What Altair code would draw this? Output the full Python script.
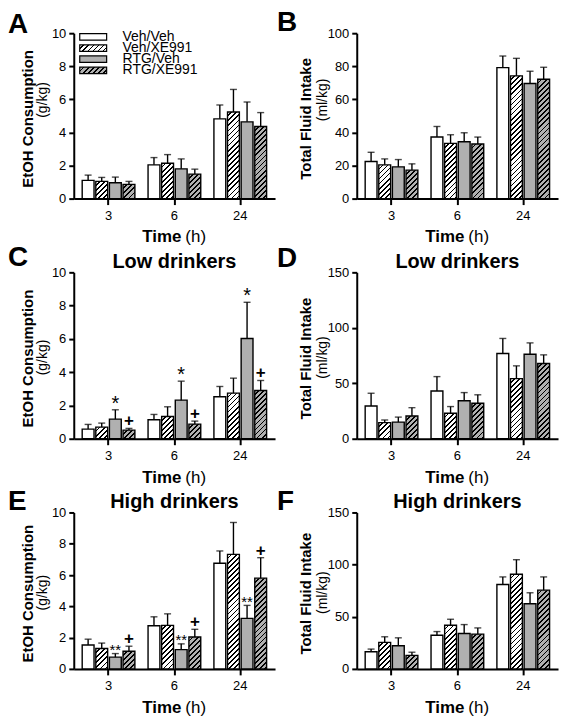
import altair as alt

# ---------------- data ----------------
times = ["3", "6", "24"]
groups = ["Veh/Veh", "Veh/XE991", "RTG/Veh", "RTG/XE991"]
hatched = [False, True, False, True]
base_colors = ["#ffffff", "#ffffff", "#b0b0b0", "#b0b0b0"]

# rows = time (3, 6, 24 h); columns = groups
a_mean = [[1.10, 1.04, 0.96, 0.86], [2.04, 2.14, 1.80, 1.48], [4.82, 5.24, 4.64, 4.36]]
a_err = [[0.32, 0.24, 0.34, 0.18], [0.44, 0.52, 0.60, 0.30], [0.84, 1.36, 1.20, 0.84]]

b_mean = [[22.4, 20.4, 19.2, 17.2], [37.2, 33.4, 34.4, 33.0], [79.2, 74.2, 69.6, 72.2]]
b_err = [[5.6, 3.6, 4.4, 3.8], [6.4, 5.2, 5.4, 4.2], [7.0, 10.6, 7.4, 7.2]]

c_mean = [[0.58, 0.70, 1.18, 0.52], [1.14, 1.34, 2.32, 0.88], [2.52, 2.74, 6.02, 2.90]]
c_err = [[0.28, 0.24, 0.56, 0.10], [0.32, 0.58, 1.14, 0.18], [0.62, 0.90, 2.18, 0.60]]

d_mean = [[29.5, 14.5, 15.0, 20.5], [43.0, 23.0, 34.3, 32.0], [76.8, 54.2, 76.2, 67.8]]
d_err = [[11.5, 2.4, 4.5, 7.5], [13.0, 6.0, 7.3, 7.6], [13.6, 11.5, 10.2, 7.8]]

e_mean = [[1.53, 1.30, 0.75, 1.13], [2.76, 2.78, 1.23, 2.04], [6.75, 7.32, 3.23, 5.80]]
e_err = [[0.37, 0.35, 0.23, 0.32], [0.57, 0.74, 0.37, 0.49], [0.79, 2.04, 0.83, 1.31]]

f_mean = [[16.5, 25.4, 22.2, 13.0], [32.3, 41.9, 34.0, 33.3], [80.9, 90.7, 62.5, 75.5]]
f_err = [[2.5, 5.4, 7.6, 3.0], [3.5, 5.7, 8.5, 6.0], [7.3, 14.0, 10.5, 12.7]]

c_flags = [("3", "RTG/Veh", "*"), ("6", "RTG/Veh", "*"), ("24", "RTG/Veh", "*"),
           ("3", "RTG/XE991", "+"), ("6", "RTG/XE991", "+"), ("24", "RTG/XE991", "+")]
e_flags = [("3", "RTG/Veh", "**"), ("6", "RTG/Veh", "**"), ("24", "RTG/Veh", "**"),
           ("3", "RTG/XE991", "+"), ("6", "RTG/XE991", "+"), ("24", "RTG/XE991", "+")]

# ---------------- layout / style ----------------
FONT = "Liberation Sans"
W = 202
PI, PO, SPI = 0.2, 0.128, 0.13
STEP = W / (3 - PI + 2 * PO)
BAND = STEP * (1 - PI)
SSTEP = BAND / (4 - SPI)
BAR_W = SSTEP * (1 - SPI)

# symbol: (font size, dy, weight)
FLAG_STYLE = {"*": (20, 0, "normal"), "**": (15, 1.5, "normal"), "+": (17, -2, "bold")}


def hatch_fill(bg, w, h, period=3.6, lw=1.2):
    """Diagonal '///' hatching as a striped linear gradient (bounding-box units)."""
    h = max(h, 0.5)
    L = (w + h) / 2 ** 0.5
    d = period / L
    dl = lw / L
    stops = []
    o = 0.0
    while o < 1:
        e1 = min(o + d - dl, 1.0)
        e2 = min(o + d, 1.0)
        stops += [{"offset": round(o, 5), "color": bg},
                  {"offset": round(e1, 5), "color": bg},
                  {"offset": round(e1, 5), "color": "#000000"},
                  {"offset": round(e2, 5), "color": "#000000"}]
        o += d
    k = (w + h) / (w * w + h * h)
    return {"gradient": "linear", "x1": 0, "y1": 0, "x2": w * k, "y2": h * k, "stops": stops}


def label(text, x, y, size, bold=False, angle=0, align="center", baseline="middle"):
    kw = dict(font=FONT, fontSize=size, fontWeight="bold" if bold else "normal",
              align=align, baseline=baseline, color="black")
    if angle:
        kw["angle"] = angle
    return alt.Chart(alt.InlineData(values=[{"t": text}])).mark_text(**kw).encode(
        text="t:N", x=alt.value(x), y=alt.value(y))


def panel(letter, letter_dy, means, errs, ymax, ystep, H, ytitle, yunit, unit_dy,
          right_col, title=None, flags=(), legend=False):
    rows = []
    for ti, t in enumerate(times):
        for gi, g in enumerate(groups):
            m = means[ti][gi]
            e = errs[ti][gi]
            h = m / ymax * H
            fill = hatch_fill(base_colors[gi], BAR_W, h) if hatched[gi] else base_colors[gi]
            rows.append({"time": t, "group": g, "mean": m, "top": m + e, "fill": fill})
    data = alt.InlineData(values=rows)

    xaxis = alt.Axis(title=None, labelAngle=0, labelFont=FONT, labelFontSize=13,
                     labelColor="black", labelPadding=5, tickSize=6, tickWidth=2,
                     tickColor="black", domainColor="black", domainWidth=2, grid=False)
    yaxis = alt.Axis(title=None, values=list(range(0, ymax + 1, ystep)), format="d",
                     labelFont=FONT, labelFontSize=13, labelColor="black", labelPadding=3,
                     tickSize=5, tickWidth=2, tickColor="black", domainColor="black",
                     domainWidth=2, grid=False)
    x = alt.X("time:N", sort=times, scale=alt.Scale(paddingInner=PI, paddingOuter=PO), axis=xaxis)
    xo = alt.XOffset("group:N", sort=groups, scale=alt.Scale(paddingInner=SPI, paddingOuter=0))
    yscale = alt.Scale(domain=[0, ymax], nice=False, zero=True)

    def yenc(field):
        return alt.Y(field, type="quantitative", scale=yscale, axis=yaxis, stack=None)

    base = alt.Chart(data)
    bars = base.mark_bar(stroke="black", strokeWidth=1.4).encode(
        x=x, xOffset=xo, y=yenc("mean"), fill=alt.Fill("fill:N", scale=None))
    err = base.mark_rule(color="black", strokeWidth=1.4).encode(
        x=x, xOffset=xo, y=yenc("mean"), y2="top:Q")
    cap = base.mark_tick(color="black", thickness=1.4, size=7).encode(
        x=x, xOffset=xo, y=yenc("top"))
    layers = [bars, err, cap]

    # significance marks
    lookup = {(r["time"], r["group"]): r["top"] for r in rows}
    for sym, (fs, dy, wt) in FLAG_STYLE.items():
        recs = [{"time": t, "group": g, "top": lookup[(t, g)], "sym": s}
                for (t, g, s) in flags if s == sym]
        if recs:
            layers.append(alt.Chart(alt.InlineData(values=recs)).mark_text(
                font=FONT, fontSize=fs, fontWeight=wt, color="black",
                baseline="alphabetic", dy=dy).encode(
                x=x, xOffset=xo, y=yenc("top"), text="sym:N"))

    # texts
    lx = -80 if right_col else -66
    tx = -51 if right_col else -46
    ux = -34 if right_col else -31
    layers.append(label(letter, lx, letter_dy, 28, bold=True, align="left", baseline="alphabetic"))
    layers.append(label(ytitle, tx, H / 2 + 3, 15, bold=True, angle=270))
    layers.append(label(yunit, ux, H / 2 + unit_dy, 14, angle=270))
    layers.append(label("Time", W / 2 + 7, H + 44, 17, bold=True, align="right", baseline="alphabetic"))
    layers.append(label("(h)", W / 2 + 11, H + 44, 17, align="left", baseline="alphabetic"))
    if title:
        layers.append(label(title, W / 2, -4, 20, bold=True, baseline="alphabetic"))

    if legend:
        for i, g in enumerate(groups):
            yc = 3.7 + 11.2 * i
            fill = hatch_fill(base_colors[i], 27, 6.5) if hatched[i] else base_colors[i]
            layers.append(alt.Chart(alt.InlineData(values=[{"g": g}])).mark_rect(
                fill=fill, stroke="black", strokeWidth=1.2).encode(
                x=alt.value(6), x2=alt.value(33), y=alt.value(yc - 3.25), y2=alt.value(yc + 3.25)))
            layers.append(label(g, 49, yc, 14, align="left"))

    return alt.layer(*layers).properties(width=W, height=H)


pA = panel("A", 0, a_mean, a_err, 10, 2, 166, "EtOH Consumption", "(g/kg)", -16, False, legend=True)
pB = panel("B", -2, b_mean, b_err, 100, 20, 166, "Total Fluid Intake", "(ml/kg)", -16, True)
pC = panel("C", -6, c_mean, c_err, 10, 2, 167, "EtOH Consumption", "(g/kg)", 2, False,
           title="Low drinkers", flags=c_flags)
pD = panel("D", -5, d_mean, d_err, 150, 50, 167, "Total Fluid Intake", "(ml/kg)", 2, True,
           title="Low drinkers")
pE = panel("E", -2, e_mean, e_err, 10, 2, 157, "EtOH Consumption", "(g/kg)", 2, False,
           title="High drinkers", flags=e_flags)
pF = panel("F", -2, f_mean, f_err, 150, 50, 157, "Total Fluid Intake", "(ml/kg)", 2, True,
           title="High drinkers")

chart = alt.concat(pA, pB, pC, pD, pE, pF, columns=2,
                   spacing={"row": 74, "column": 82}, bounds="flush").properties(
    padding={"left": 0, "top": 0, "right": 4, "bottom": 4}
).configure_view(stroke=None)

chart.save("out.html", embed_options={"renderer": "svg", "actions": False})
